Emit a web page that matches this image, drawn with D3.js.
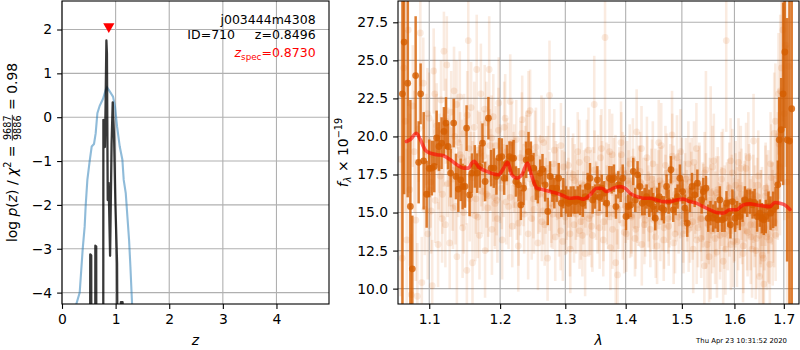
<!DOCTYPE html>
<html><head><meta charset="utf-8">
<script src="https://cdn.jsdelivr.net/npm/d3@7/dist/d3.min.js"></script>
<style>
html,body{margin:0;padding:0;background:#fff;}
svg text{font-family:"DejaVu Sans",sans-serif;}
</style></head><body>
<svg id="chart" width="800" height="350" xmlns="http://www.w3.org/2000/svg"></svg>
<script>
// ---------------- DATA ----------------
// left panel: redshift PDF
const pzZ   = [0.50,0.522,0.527,0.545,0.550,0.605,0.618,0.622,0.638,0.643,0.755,0.768,0.772,0.790,0.800,0.812,0.828,0.838,0.853,0.870,0.897,0.925,0.946,0.971,0.996,1.027,1.045,1.090,1.098,1.130,1.138,1.20];
const pzLog = [-8,-8,-3.13,-3.15,-8,-8,-8,-2.93,-2.95,-8,-8,-8,-0.06,-0.12,-0.68,0.2,1.75,1.45,-1.89,-1.5,-3.16,-0.6,0.34,-0.44,-1.98,-3.33,-8,-8,-4.22,-4.22,-8,-8];
const priorZ   = [0.24,0.268,0.330,0.386,0.423,0.442,0.473,0.516,0.554,0.597,0.628,0.660,0.703,0.765,0.815,0.840,0.890,0.952,0.989,1.027,1.077,1.126,1.151,1.189,1.220,1.251,1.276,1.307,1.33];
const priorLog = [-5.0,-4.26,-4.0,-3.01,-2.49,-2.01,-1.43,-1.0,-0.67,-0.61,-0.37,0.09,0.26,0.42,0.62,0.68,0.59,0.47,0.24,-0.21,-0.67,-0.97,-1.43,-1.73,-2.27,-2.80,-3.41,-4.26,-5.5];
const zSpec = 0.873;
const zTicks = [0,1,2,3,4];
const pTicks = [-4,-3,-2,-1,0,1,2];

// right panel: spectrum
const lamTicks  = [1.1,1.2,1.3,1.4,1.5,1.6,1.7];
const fluxTicks = [10,12.5,15,17.5,20,22.5,25,27.5];

const modelLam  = [1.0696,1.0748,1.0827,1.088,1.0947,1.1014,1.1105,1.1195,1.1288,1.1381,1.1474,1.1544,1.1591,1.1624,1.1686,1.1805,1.1902,1.1976,1.205,1.211,1.2175,1.225,1.2325,1.241,1.2477,1.2554,1.2656,1.2759,1.2863,1.2968,1.3076,1.3184,1.3292,1.34,1.3511,1.3594,1.3678,1.3789,1.39,1.3989,1.4074,1.4189,1.4306,1.4424,1.4541,1.4661,1.4782,1.4903,1.5025,1.515,1.5275,1.54,1.5525,1.5652,1.5781,1.591,1.604,1.6173,1.6307,1.644,1.6573,1.6711,1.6814,1.6917,1.7021,1.7128];
const modelFlux = [19.67,19.8,20.2,19.8,19.1,18.9,18.8,18.73,18.47,18.14,17.92,17.92,18.25,18.36,18.0,17.7,17.54,17.48,17.9,18.3,17.48,17.26,17.48,18.25,17.37,16.6,16.5,16.38,16.27,16.1,15.94,15.98,15.88,16.16,16.6,16.6,16.38,16.6,16.7,16.6,16.27,16.05,15.94,15.94,15.83,15.72,15.72,15.83,15.88,15.72,15.6,15.39,15.18,15.0,14.96,15.18,15.18,15.5,15.57,15.5,15.44,15.39,15.66,15.61,15.5,15.2];

const darkLam = [1.0644,1.0666,1.0713,1.0748,1.0774,1.0818,1.0858,1.0884,1.0925,1.0965,1.1000,
 1.1036,1.1068,1.1100,1.1132,1.1168,1.1200,1.1228,1.1256,1.1293,1.1335,1.1367,1.1400,1.1433,1.1460,1.1493,1.1516,1.1558,1.1591,1.1633,1.1666,1.1705,1.1743,1.1781,1.1829,1.1868,1.1907,1.1946,1.1985,
 1.2025,1.2060,1.2100,1.2140,1.2175,1.2200,1.2235,1.2275,1.2310,1.2350,1.2390,1.2426,1.2462,1.2503,1.2538,1.2569,1.2605,1.2641,1.2682,1.2723,1.2759,1.2795,1.2826,1.2863,1.2895,1.2937,1.2968,1.3011,1.3049,1.3087,1.3130,1.3162,1.3200,1.3238,1.3281,1.3324,1.3362,1.3400,1.3444,1.3483,1.3522,
 1.3558,
 1.3594,1.3633,1.3678,1.3722,1.3761,1.3800,1.3834,1.3874,1.3914,1.3949,1.4006,1.4046,1.4086,1.4131,1.4166,1.4206,1.4247,1.4288,1.4329,1.4365,1.4412,1.4453,1.4482,1.4518,1.4553,1.4588,1.4636,1.4673,1.4721,1.4758,1.4800,1.4842,1.4885,1.4921,1.4964,1.5013,1.5056,1.5100,1.5150,1.5188,1.5238,1.5288,
 1.5369,1.5400,1.5450,1.5494,1.5537,1.5588,1.5632,1.5677,1.5716,1.5760,1.5806,1.5845,1.5884,1.5922,1.5961,1.6013,1.6053,1.6107,1.6160,1.6207,1.6253,1.6307,1.6360,1.6400,1.6453,1.6507,1.6547,1.6587,1.6628,1.6683,1.6725,1.6780,1.6828,1.6876,1.6904,1.6945,1.6985,1.7021,1.7069,1.7118,1.7166];
const darkFlux = [22.8,26.2,23.5,15.4,11.3,24.0,18.3,22.8,18.4,16.2,17.9,
 17.92,18.03,19.9,19.34,19.56,20.33,20.88,19.34,17.59,20.88,17.37,16.54,17.15,16.71,16.71,20.55,16.16,17.59,18.03,17.59,18.03,19.56,17.04,21.2,17.92,17.92,17.37,18.6,
 18.68,17.26,18.25,18.68,18.57,18.57,17.04,16.82,15.5,16.6,18.46,19.0,18.57,17.92,16.93,16.6,17.59,17.85,16.82,15.07,17.37,16.6,16.27,16.6,17.26,15.61,16.27,15.83,15.61,15.72,15.83,15.72,15.83,15.83,15.61,16.05,16.71,17.26,15.83,16.05,17.15,
 16.0,
 16.6,16.27,15.61,17.26,17.15,17.26,15.39,16.82,16.49,17.26,14.74,15.39,15.5,17.7,15.83,17.48,16.71,15.61,15.72,16.05,15.61,15.83,15.39,14.63,15.83,16.05,15.29,15.18,16.71,15.72,17.81,15.18,15.72,16.05,17.26,16.38,15.29,14.3,15.83,16.71,16.16,16.93,
 15.83,16.38,16.6,14.63,14.96,14.63,14.85,14.52,15.83,14.52,14.63,15.61,14.96,14.19,15.72,14.63,14.96,14.74,15.18,15.83,15.61,15.72,15.5,15.66,14.74,14.96,14.63,14.52,14.74,15.39,14.96,15.18,15.39,16.82,19.78,20.44,22.8,25.55,19.78,19.7,21.82];
const darkErr = [15,10,7.5,7,3.5,3.9,2.7,2.0,3.2,2.2,1.9,
 1.8,1.7,1.8,1.6,1.7,1.6,1.7,1.5,1.6,1.6,1.5,1.5,1.4,1.5,1.4,1.5,1.4,1.3,1.4,1.3,1.4,1.3,1.3,1.4,1.2,1.3,1.2,1.3,
 1.2,1.1,1.2,1.0,1.1,1.2,1.0,1.1,1.0,1.1,1.2,1.3,1.1,1.0,1.1,1.0,0.9,1.0,1.1,0.9,1.0,0.9,1.0,0.9,1.0,0.9,1.0,0.9,0.9,1.0,0.9,0.8,0.9,1.0,0.9,0.8,0.9,1.0,0.9,0.8,0.9,
 0.9,
 0.9,0.8,0.9,0.8,0.9,0.9,0.8,0.9,0.8,0.9,0.9,0.8,0.8,0.9,0.8,0.9,0.8,0.8,0.9,0.8,0.9,0.8,0.9,0.8,0.8,0.9,0.8,0.9,0.8,0.8,0.9,0.8,0.9,0.8,0.9,0.8,0.9,0.9,0.8,0.9,0.8,0.9,
 0.9,0.9,0.8,0.9,0.8,0.9,0.9,0.8,0.9,0.8,0.9,0.8,0.9,0.9,0.8,0.9,0.8,0.9,0.8,0.9,0.9,0.8,0.9,0.9,1.0,0.9,1.0,1.0,1.1,1.0,1.1,1.2,1.3,1.6,2.8,3.4,6,5.0,8.0,15,15];

const faint1Lam = [1.062,1.064,1.066,1.068,1.070,1.072,1.074,1.076,1.078,1.080,
 1.082,1.084,1.086,1.088,1.090,1.092,1.094,1.096,1.098,1.100,
 1.102,1.104,1.106,1.108,1.110,1.112,1.114,1.116,1.118,1.120,
 1.122,1.124,1.126,1.128,1.130,1.132,1.134,1.136,1.138,1.140,
 1.142,1.144,1.146,1.148,1.150,1.152,1.154,1.156,1.158,1.160,
 1.162,1.164,1.166,1.168,1.170,1.172,1.174,1.176,1.178,1.180,
 1.182,1.184,1.186,1.188,1.190,1.192,1.194,1.196,1.198,1.200,
 1.203,1.206,1.209,1.212,1.215,1.218,1.221,1.224,1.227,1.230,
 1.233,1.236,1.239,1.242,1.245,1.248,1.251,1.254,1.257,1.260,
 1.263,1.266,1.269,1.272,1.275,1.278,1.281,1.284,1.287,1.290,
 1.293,1.296,1.299,1.302,1.305,1.308,1.311,1.314,1.317,1.320,
 1.323,1.326,1.329,1.332,1.335,1.338,1.341,1.344,1.347,1.350,
 1.353,1.356,1.359,1.362,1.365,1.368,1.371,1.374,1.377,1.380,
 1.383,1.386,1.389,1.392,1.395,1.398,1.401,1.404,1.407,1.410,
 1.413,1.416,1.419,1.422,1.425,1.428,1.431,1.434,1.437,1.440,
 1.443,1.446,1.449,1.452,1.455,1.458,1.461,1.464,1.467,1.470,
 1.473,1.476,1.479,1.482,1.485,1.488,1.491,1.494,1.497,1.500,
 1.503,1.506,1.509,1.512,1.515,1.518,1.521,1.524,1.527,1.530,
 1.533,1.536,1.539,1.542,1.545,1.548,1.551,1.554,1.557,1.560,
 1.563,1.566,1.569,1.572,1.575,1.578,1.581,1.584,1.587,1.590,
 1.593,1.596,1.599,1.602,1.605,1.608,1.611,1.614,1.617,1.620,
 1.623,1.626,1.629,1.632,1.635,1.638,1.641,1.644,1.647,1.650,
 1.653,1.656,1.659,1.662,1.665,1.668,1.671,1.674,1.677,1.680,
 1.683,1.686,1.689,1.692,1.695,1.698,1.701,1.704,1.707,1.710];
const faint1Flux = [18.5,12.0,24.5,21.0,13.2,27.0,16.5,9.6,22.0,19.0,
 14.5,9.5,20.5,26.8,10.4,23.5,15.2,19.8,13.6,21.2,
 17.0,10.2,24.3,15.8,20.7,12.9,18.9,22.4,16.2,25.6,
 14.2,24.7,19.3,13.0,21.6,17.2,23.0,15.4,12.1,19.6,
 22.6,16.8,14.0,20.2,18.3,11.2,26.3,15.9,21.9,11.7,
 17.6,14.8,24.4,19.1,13.5,22.8,16.4,18.7,12.5,20.9,
 15.3,24.4,17.8,13.9,21.3,16.0,19.4,14.6,22.2,17.1,
 13.2,20.6,15.7,18.4,22.3,14.1,17.9,19.8,12.8,16.3,
 21.1,14.9,18.6,13.6,21.7,16.9,15.2,19.3,13.0,17.4,
 14.4,19.6,16.1,12.0,22.7,15.6,18.2,13.4,17.0,14.8,
 19.4,13.1,16.6,15.0,18.1,12.6,17.3,14.2,16.0,19.0,
 13.8,16.9,15.3,12.3,18.5,14.6,16.4,13.5,22.1,15.8,
 17.6,14.0,19.2,13.2,26.5,15.5,17.0,12.7,18.8,14.9,
 11.7,10.9,16.8,19.6,14.3,17.5,13.6,15.9,18.2,14.8,
 16.6,13.3,20.3,15.2,17.7,12.9,16.1,14.5,18.6,15.6,
 13.9,17.2,15.0,16.5,12.8,19.6,14.4,16.9,13.2,18.1,
 15.4,14.1,17.0,20.1,13.0,16.2,18.6,14.7,15.9,17.4,
 13.6,16.4,15.1,18.2,14.2,17.3,12.6,15.7,19.2,14.0,
 16.7,13.3,15.5,11.5,17.8,14.6,12.1,16.3,13.8,18.4,
 14.9,12.4,16.0,13.5,17.2,11.8,15.3,26.3,14.1,16.6,
 12.9,17.6,14.5,15.8,13.1,18.3,14.8,16.2,12.3,15.5,
 17.9,13.7,16.4,14.2,12.6,19.7,15.1,13.3,16.8,10.8,
 14.6,12.2,10.3,16.1,13.4,15.7,11.6,17.3,14.0,20.2,
 13.5,16.9,22.8,18.0,24.5,27.0,21.5,26.0,17.0,24.6];
const faint1Err = [9,8,7,6,6,5,5,4,4,4,
 4,3.5,3.5,3.5,3,3,3,3,3,3,
 3,3,2.8,2.8,2.8,2.8,2.6,2.6,2.6,2.6,
 2.8,3.2,2.6,3.0,2.7,3.4,2.9,2.5,3.1,2.8,
 3.0,2.7,3.3,2.6,2.9,3.1,4.5,2.8,3.0,3.2,
 2.7,3.0,3.6,2.6,2.9,3.3,2.8,3.0,3.1,2.7,
 2.9,3.5,2.7,3.0,2.8,3.2,2.6,2.9,3.0,2.8,
 2.6,3.0,2.8,2.5,3.1,2.7,2.9,2.6,3.0,2.8,
 2.9,2.6,2.8,3.0,2.7,2.5,2.9,2.6,3.1,2.7,
 2.6,2.9,2.5,2.8,3.6,2.6,2.7,2.9,2.5,2.7,
 2.8,2.6,2.4,2.7,2.5,2.9,2.6,2.5,2.8,2.6,
 2.5,2.7,2.4,2.8,2.6,2.5,2.7,2.4,3.2,2.6,
 2.5,2.7,2.6,2.4,7.5,2.6,2.5,2.8,2.7,2.5,
 2.9,3.0,2.5,2.7,2.4,2.6,2.5,2.7,2.6,2.5,
 2.6,2.5,2.8,2.4,2.6,2.7,2.5,2.4,2.7,2.5,
 2.5,2.6,2.4,2.7,2.5,2.8,2.6,2.5,2.7,2.6,
 2.4,2.6,2.5,2.9,2.7,2.5,2.8,2.4,2.6,2.5,
 2.6,2.5,2.7,2.8,2.5,2.6,2.9,2.4,3.0,2.6,
 2.7,2.6,2.8,3.2,6.5,2.7,3.0,7.0,2.8,3.1,
 2.8,3.0,2.7,2.9,3.1,3.2,2.8,6.0,2.9,3.0,
 3.0,2.9,2.8,3.1,3.0,2.9,2.8,3.0,3.2,2.9,
 3.0,2.9,3.1,3.0,3.2,3.1,3.0,3.3,3.1,3.5,
 3.2,3.4,3.6,3.3,3.5,3.4,3.7,3.5,3.8,4.0,
 3,3.5,4,4.5,5,6,7,8,9,10];

const faint2Lam = [1.095,1.100,1.105,1.110,1.115,1.120,1.125,1.130,1.135,1.140,
 1.145,1.150,1.155,1.160,1.165,1.170,1.175,1.180,1.185,1.190,
 1.195,1.200,1.205,1.210,1.215,1.220,1.225,1.230,1.235,1.240,
 1.245,1.250,1.255,1.260,1.265,1.270,1.275,1.280,1.285,1.290,
 1.295,1.300,1.305,1.310,1.315,1.320,1.325,1.330,1.335,1.340,
 1.345,1.350,1.355,1.360,1.365,1.370,1.375,1.380,1.385,1.390,
 1.395,1.400,1.405,1.410,1.415,1.420,1.425,1.430,1.435,1.440,
 1.445,1.450,1.455,1.460,1.465,1.470,1.475,1.480,1.485,1.490,
 1.495,1.500,1.505,1.510,1.515,1.520,1.525,1.530,1.535,1.540,
 1.545,1.550,1.555,1.560,1.565,1.570,1.575,1.580,1.585,1.590,
 1.595,1.600,1.605,1.610,1.615,1.620,1.625,1.630,1.635,1.640,
 1.645,1.650,1.655,1.660,1.665,1.670,1.675,1.680,1.685,1.690];
const faint2Flux = [19.0,16.5,18.8,20.3,17.4,19.1,16.9,18.0,20.0,17.0,
 18.6,16.4,19.2,17.3,15.9,18.9,17.6,16.2,19.4,17.0,
 15.8,18.3,17.1,19.0,16.0,17.8,15.5,18.6,16.8,19.5,
 17.2,15.9,17.7,16.2,15.1,17.6,16.4,14.9,17.2,15.8,
 16.9,14.7,16.3,15.2,17.1,15.6,14.4,16.8,15.9,14.8,
 17.0,16.1,15.0,17.3,16.4,14.9,16.7,17.4,15.3,16.6,
 17.8,15.4,16.9,14.7,16.2,15.5,17.0,14.9,16.3,15.2,
 16.8,14.5,15.9,17.1,15.0,16.4,14.6,15.8,17.2,15.5,
 16.6,14.8,16.0,15.3,17.0,14.4,15.9,16.7,14.6,15.7,
 16.5,14.2,15.6,13.9,16.3,14.8,15.4,13.6,15.8,14.5,
 16.2,14.1,15.5,16.6,14.3,15.9,13.8,16.4,15.0,14.2,
 16.1,13.5,15.4,14.0,16.3,13.2,15.6,14.4,17.0,19.5];
const faint2Err = [2.4,2.6,2.3,2.5,2.7,2.4,2.2,2.6,2.5,2.3,
 2.5,2.2,2.6,2.4,2.3,2.7,2.5,2.2,2.4,2.6,
 2.3,2.5,2.4,2.2,2.6,2.5,2.3,2.4,2.7,2.2,
 2.4,2.6,2.3,2.5,2.2,2.4,2.6,2.3,2.5,2.4,
 2.2,2.5,2.3,2.6,2.4,2.2,2.5,2.3,2.4,2.6,
 2.3,2.2,2.5,2.4,2.6,2.3,2.2,2.5,2.4,2.3,
 2.5,2.4,2.2,2.6,2.3,2.5,2.4,2.2,2.3,2.5,
 2.4,2.6,2.3,2.2,2.5,2.4,2.3,2.6,2.2,2.4,
 2.5,2.3,2.4,2.2,2.6,2.5,2.3,2.4,2.2,2.5,
 2.4,2.6,2.3,2.5,2.4,2.2,2.6,2.3,2.5,2.4,
 2.6,2.3,2.5,2.4,2.7,2.3,2.6,2.5,2.4,2.8,
 2.5,2.7,2.6,2.8,2.5,2.9,2.7,3.0,3.2,3.6];

const faint3Lam = [1.0975,1.1025,1.1075,1.1125,1.1175,1.1225,1.1275,1.1325,1.1375,1.1425,
 1.1475,1.1525,1.1575,1.1625,1.1675,1.1725,1.1775,1.1825,1.1875,1.1925,
 1.1975,1.2025,1.2075,1.2125,1.2175,1.2225,1.2275,1.2325,1.2375,1.2425,
 1.2475,1.2525,1.2575,1.2625,1.2675,1.2725,1.2775,1.2825,1.2875,1.2925,
 1.2975,1.3025,1.3075,1.3125,1.3175,1.3225,1.3275,1.3325,1.3375,1.3425,
 1.3475,1.3525,1.3575,1.3625,1.3675,1.3725,1.3775,1.3825,1.3875,1.3925,
 1.3975,1.4025,1.4075,1.4125,1.4175,1.4225,1.4275,1.4325,1.4375,1.4425,
 1.4475,1.4525,1.4575,1.4625,1.4675,1.4725,1.4775,1.4825,1.4875,1.4925,
 1.4975,1.5025,1.5075,1.5125,1.5175,1.5225,1.5275,1.5325,1.5375,1.5425,
 1.5475,1.5525,1.5575,1.5625,1.5675,1.5725,1.5775,1.5825,1.5875,1.5925,
 1.5975,1.6025,1.6075,1.6125,1.6175,1.6225,1.6275,1.6325,1.6375,1.6425,
 1.6475,1.6525,1.6575,1.6625,1.6675,1.6725,1.6775,1.6825,1.6875,1.6925];
const faint3Flux = [21.5,15.1,22.8,17.9,14.6,21.0,18.4,15.3,22.1,18.8,
 15.0,21.4,17.5,20.6,14.7,18.2,21.8,16.1,19.9,15.6,
 20.4,16.6,21.2,15.4,19.6,16.9,14.3,20.2,17.8,21.5,
 14.6,18.9,16.2,19.8,14.2,17.9,15.3,19.1,16.4,13.8,
 18.0,15.8,13.6,17.5,14.9,18.3,13.5,16.6,19.1,14.1,
 17.8,15.0,18.6,14.4,16.9,19.0,13.9,17.4,15.2,18.8,
 13.7,17.1,14.8,18.5,13.9,16.7,19.2,14.2,17.3,15.0,
 18.2,13.4,16.5,19.4,14.0,17.6,15.4,18.7,13.6,16.2,
 19.0,14.3,17.2,13.9,16.4,18.3,13.2,16.9,14.6,17.6,
 12.9,15.8,18.0,13.3,16.5,14.0,17.7,12.6,15.6,18.4,
 13.1,16.8,14.2,17.9,12.8,16.0,18.6,13.4,15.9,12.5,
 17.4,14.7,12.0,16.6,13.6,18.2,15.0,21.0,17.4,23.0];
const faint3Err = [3.0,2.8,3.1,2.7,2.9,2.8,3.0,2.7,2.9,2.8,
 2.7,2.9,2.8,3.0,2.7,2.8,2.9,2.7,2.8,3.0,
 2.8,2.7,2.9,2.8,2.7,3.0,2.8,2.7,2.9,2.8,
 2.7,2.8,2.6,2.9,2.7,2.8,2.6,2.7,2.9,2.6,
 2.7,2.6,2.8,2.7,2.6,2.8,2.7,2.6,2.8,2.7,
 2.6,2.7,2.8,2.6,2.7,2.8,2.6,2.7,2.6,2.8,
 2.7,2.6,2.8,2.7,2.6,2.7,2.8,2.6,2.7,2.6,
 2.8,2.7,2.6,2.8,2.7,2.6,2.7,2.8,2.6,2.7,
 2.8,2.6,2.7,2.8,2.6,2.7,2.9,2.7,2.8,2.7,
 2.9,2.8,2.7,3.0,2.8,2.9,2.8,3.0,2.9,2.8,
 3.0,2.9,3.0,2.8,3.1,2.9,3.0,3.1,2.9,3.2,
 3.0,3.1,3.3,3.0,3.2,3.4,3.3,3.8,4.2,5.0];

const objName = "j003444m4308";
const objId = 710;
const zBest = 0.8496;
const chi2Num = 9687, chi2Den = 9886, chi2Ratio = 0.98;
const timeStamp = "Thu Apr 23 10:31:52 2020";

// ---------------- DRAWING ----------------
const svg = d3.select("#chart");
const FS = 13.9;
const ORANGE = "#d55e00";
const L = {x0:62, x1:329, y0:1, y1:304};
const R = {x0:398, x1:799, y0:1, y1:304};

const zScale = d3.scaleLinear().domain([0, 4.98]).range([L.x0, L.x1]);
const pScale = d3.scaleLinear().domain([-4.26, 2.65]).range([L.y1, L.y0]);
const lamScale = d3.scaleLog().domain([1.0586, 1.732]).range([R.x0, R.x1]);
const fluxScale = d3.scaleLinear().domain([8.99, 28.9]).range([R.y1, R.y0]);

svg.append("rect").attr("width",800).attr("height",350).attr("fill","#fff");
const defs = svg.append("defs");
[["clipL",L],["clipR",R]].forEach(([id,b])=>{
  defs.append("clipPath").attr("id",id).append("rect")
    .attr("x",b.x0).attr("y",b.y0).attr("width",b.x1-b.x0).attr("height",b.y1-b.y0);
});

function drawGrid(box, xs, xt, ys, yt){
  const g = svg.append("g").attr("stroke","#b0b0b0").attr("stroke-width",1.1);
  g.selectAll("line.v").data(xt).join("line").attr("class","v")
    .attr("x1",d=>xs(d)).attr("x2",d=>xs(d)).attr("y1",box.y0).attr("y2",box.y1);
  g.selectAll("line.h").data(yt).join("line").attr("class","h")
    .attr("y1",d=>ys(d)).attr("y2",d=>ys(d)).attr("x1",box.x0).attr("x2",box.x1);
}
function drawAxes(box, xs, xt, xf, ys, yt, yf){
  const ax = svg.append("g").attr("transform",`translate(0,${box.y1})`)
    .call(d3.axisBottom(xs).tickValues(xt).tickFormat(xf).tickSize(4.9).tickPadding(4.9));
  const ay = svg.append("g").attr("transform",`translate(${box.x0},0)`)
    .call(d3.axisLeft(ys).tickValues(yt).tickFormat(yf).tickSize(4.9).tickPadding(4.9));
  [ax,ay].forEach(a=>{
    a.select(".domain").remove();
    a.attr("font-size",FS).attr("font-family","DejaVu Sans");
    a.selectAll("text").attr("fill","#000");
    a.selectAll("line").attr("stroke","#000").attr("stroke-width",1.1);
  });
  svg.append("rect").attr("x",box.x0).attr("y",box.y0)
    .attr("width",box.x1-box.x0).attr("height",box.y1-box.y0)
    .attr("fill","none").attr("stroke","#000").attr("stroke-width",1.1);
}

// math-like label builder
function mathLabel(parent, pieces, size){
  const g = parent.append("g");
  let x = 0;
  pieces.forEach(p=>{
    if (p.frac){
      const fs = size*0.7, bar = -size*0.3;
      const a = g.append("text").attr("font-size",fs).text(p.frac[0]);
      const b = g.append("text").attr("font-size",fs).text(p.frac[1]);
      const wa = a.node().getComputedTextLength(), wb = b.node().getComputedTextLength();
      const w = Math.max(wa,wb);
      a.attr("x", x+1+(w-wa)/2).attr("y", bar-1.6);
      b.attr("x", x+1+(w-wb)/2).attr("y", bar+1.6+fs*0.73);
      g.append("line").attr("x1",x+0.5).attr("x2",x+w+1.5).attr("y1",bar).attr("y2",bar)
        .attr("stroke","#000").attr("stroke-width",0.8);
      x += w+2;
    } else {
      const fs = size*(p.scale||1);
      const t = g.append("text").attr("font-size",fs).attr("x",x).attr("y",p.dy||0)
        .attr("xml:space","preserve").style("white-space","pre").text(p.t);
      if (p.it) t.attr("font-style","italic");
      x += t.node().getComputedTextLength();
    }
  });
  return {g, width:x};
}

// ---- left panel ----
drawGrid(L, zScale, zTicks, pScale, pTicks);
const gL = svg.append("g").attr("clip-path","url(#clipL)");
const lineL = d3.line().x(d=>zScale(d[0])).y(d=>pScale(d[1]));
gL.append("path").datum(priorZ.map((z,i)=>[z,priorLog[i]]))
  .attr("d",lineL).attr("fill","none").attr("stroke","#1f77b4")
  .attr("stroke-opacity",0.5).attr("stroke-width",2.1);
gL.append("path").datum(pzZ.map((z,i)=>[z,pzLog[i]]))
  .attr("d",lineL).attr("fill","none").attr("stroke","#000")
  .attr("stroke-opacity",0.78).attr("stroke-width",2.3).attr("stroke-linejoin","round");
gL.append("path").attr("d", d3.symbol(d3.symbolTriangle, 55)())
  .attr("transform",`translate(${zScale(zSpec)},${pScale(2.07)}) rotate(180)`)
  .attr("fill","red");
drawAxes(L, zScale, zTicks, d3.format("d"), pScale, pTicks, d3.format("d"));

// annotations
const annX = L.x0 + 0.95*(L.x1-L.x0);
svg.append("text").attr("x",annX).attr("y",24).attr("text-anchor","end")
  .attr("font-size",12.5).text(objName);
svg.append("text").attr("x",annX).attr("y",38.5).attr("text-anchor","end")
  .attr("font-size",12.5).attr("xml:space","preserve").style("white-space","pre")
  .text(`ID=${objId}     z=${zBest.toFixed(4)}`);
{
  const m = mathLabel(svg, [
    {t:"z", it:true},
    {t:"spec", scale:0.7, dy:3},
    {t:"="+zSpec.toFixed(4)}
  ], 12.5);
  m.g.attr("fill","red").attr("transform",`translate(${annX-m.width},56.5)`);
}

// left y label
{
  const holder = svg.append("g").attr("transform",`translate(16.5,${(L.y0+L.y1)/2}) rotate(-90)`);
  const m = mathLabel(holder, [
    {t:"log "}, {t:"p", it:true}, {t:"("}, {t:"z", it:true}, {t:")"},
    {t:" / "}, {t:"χ", it:true}, {t:"2", scale:0.7, dy:-5.5},
    {t:" = "}, {frac:[String(chi2Num), String(chi2Den)]}, {t:" = "+chi2Ratio.toFixed(2)}
  ], FS);
  m.g.attr("transform",`translate(${-m.width/2},0)`);
}
// left x label
svg.append("text").attr("x",(L.x0+L.x1)/2).attr("y",344.5).attr("text-anchor","middle")
  .attr("font-size",FS).attr("font-style","italic").text("z");

// ---- right panel ----
drawGrid(R, lamScale, lamTicks, fluxScale, fluxTicks);
const gR = svg.append("g").attr("clip-path","url(#clipR)");
function errSet(lam, flux, err, op, r, w){
  const data = lam.map((l,i)=>({l, f:flux[i], e:err[i]}));
  const g = gR.append("g");
  g.selectAll("line").data(data).join("line")
    .attr("x1",d=>lamScale(d.l)).attr("x2",d=>lamScale(d.l))
    .attr("y1",d=>fluxScale(d.f-d.e)).attr("y2",d=>fluxScale(d.f+d.e))
    .attr("stroke",ORANGE).attr("stroke-opacity",op).attr("stroke-width",w);
  g.selectAll("circle").data(data).join("circle")
    .attr("cx",d=>lamScale(d.l)).attr("cy",d=>fluxScale(d.f)).attr("r",r)
    .attr("fill",ORANGE).attr("fill-opacity",op);
}
errSet(faint1Lam, faint1Flux, faint1Err, 0.12, 3.4, 2.6);
errSet(faint2Lam, faint2Flux, faint2Err, 0.12, 3.4, 2.6);
errSet(faint3Lam, faint3Flux, faint3Err, 0.12, 3.4, 2.6);
errSet(darkLam, darkFlux, darkErr, 0.8, 3.4, 2.5);
gR.append("path").datum(modelLam.map((l,i)=>[l,modelFlux[i]]))
  .attr("d", d3.line().x(d=>lamScale(d[0])).y(d=>fluxScale(d[1])).curve(d3.curveMonotoneX))
  .attr("fill","none").attr("stroke","red").attr("stroke-opacity",0.6)
  .attr("stroke-width",3.6).attr("stroke-linejoin","round").attr("stroke-linecap","round");
drawAxes(R, lamScale, lamTicks, d3.format(".1f"), fluxScale, fluxTicks, d3.format(".1f"));

// right y label
{
  const holder = svg.append("g").attr("transform",`translate(347.5,${(R.y0+R.y1)/2}) rotate(-90)`);
  const m = mathLabel(holder, [
    {t:"f", it:true}, {t:"λ", it:true, scale:0.7, dy:3},
    {t:" × 10"}, {t:"−19", scale:0.7, dy:-5.5}
  ], FS);
  m.g.attr("transform",`translate(${-m.width/2},0)`);
}
// right x label
svg.append("text").attr("x",(R.x0+R.x1)/2).attr("y",345).attr("text-anchor","middle")
  .attr("font-size",FS).attr("font-style","italic").text("λ");

// timestamp
svg.append("text").attr("x",787).attr("y",342.5).attr("text-anchor","end")
  .attr("font-size",6.9).text(timeStamp);
</script>
</body></html>
